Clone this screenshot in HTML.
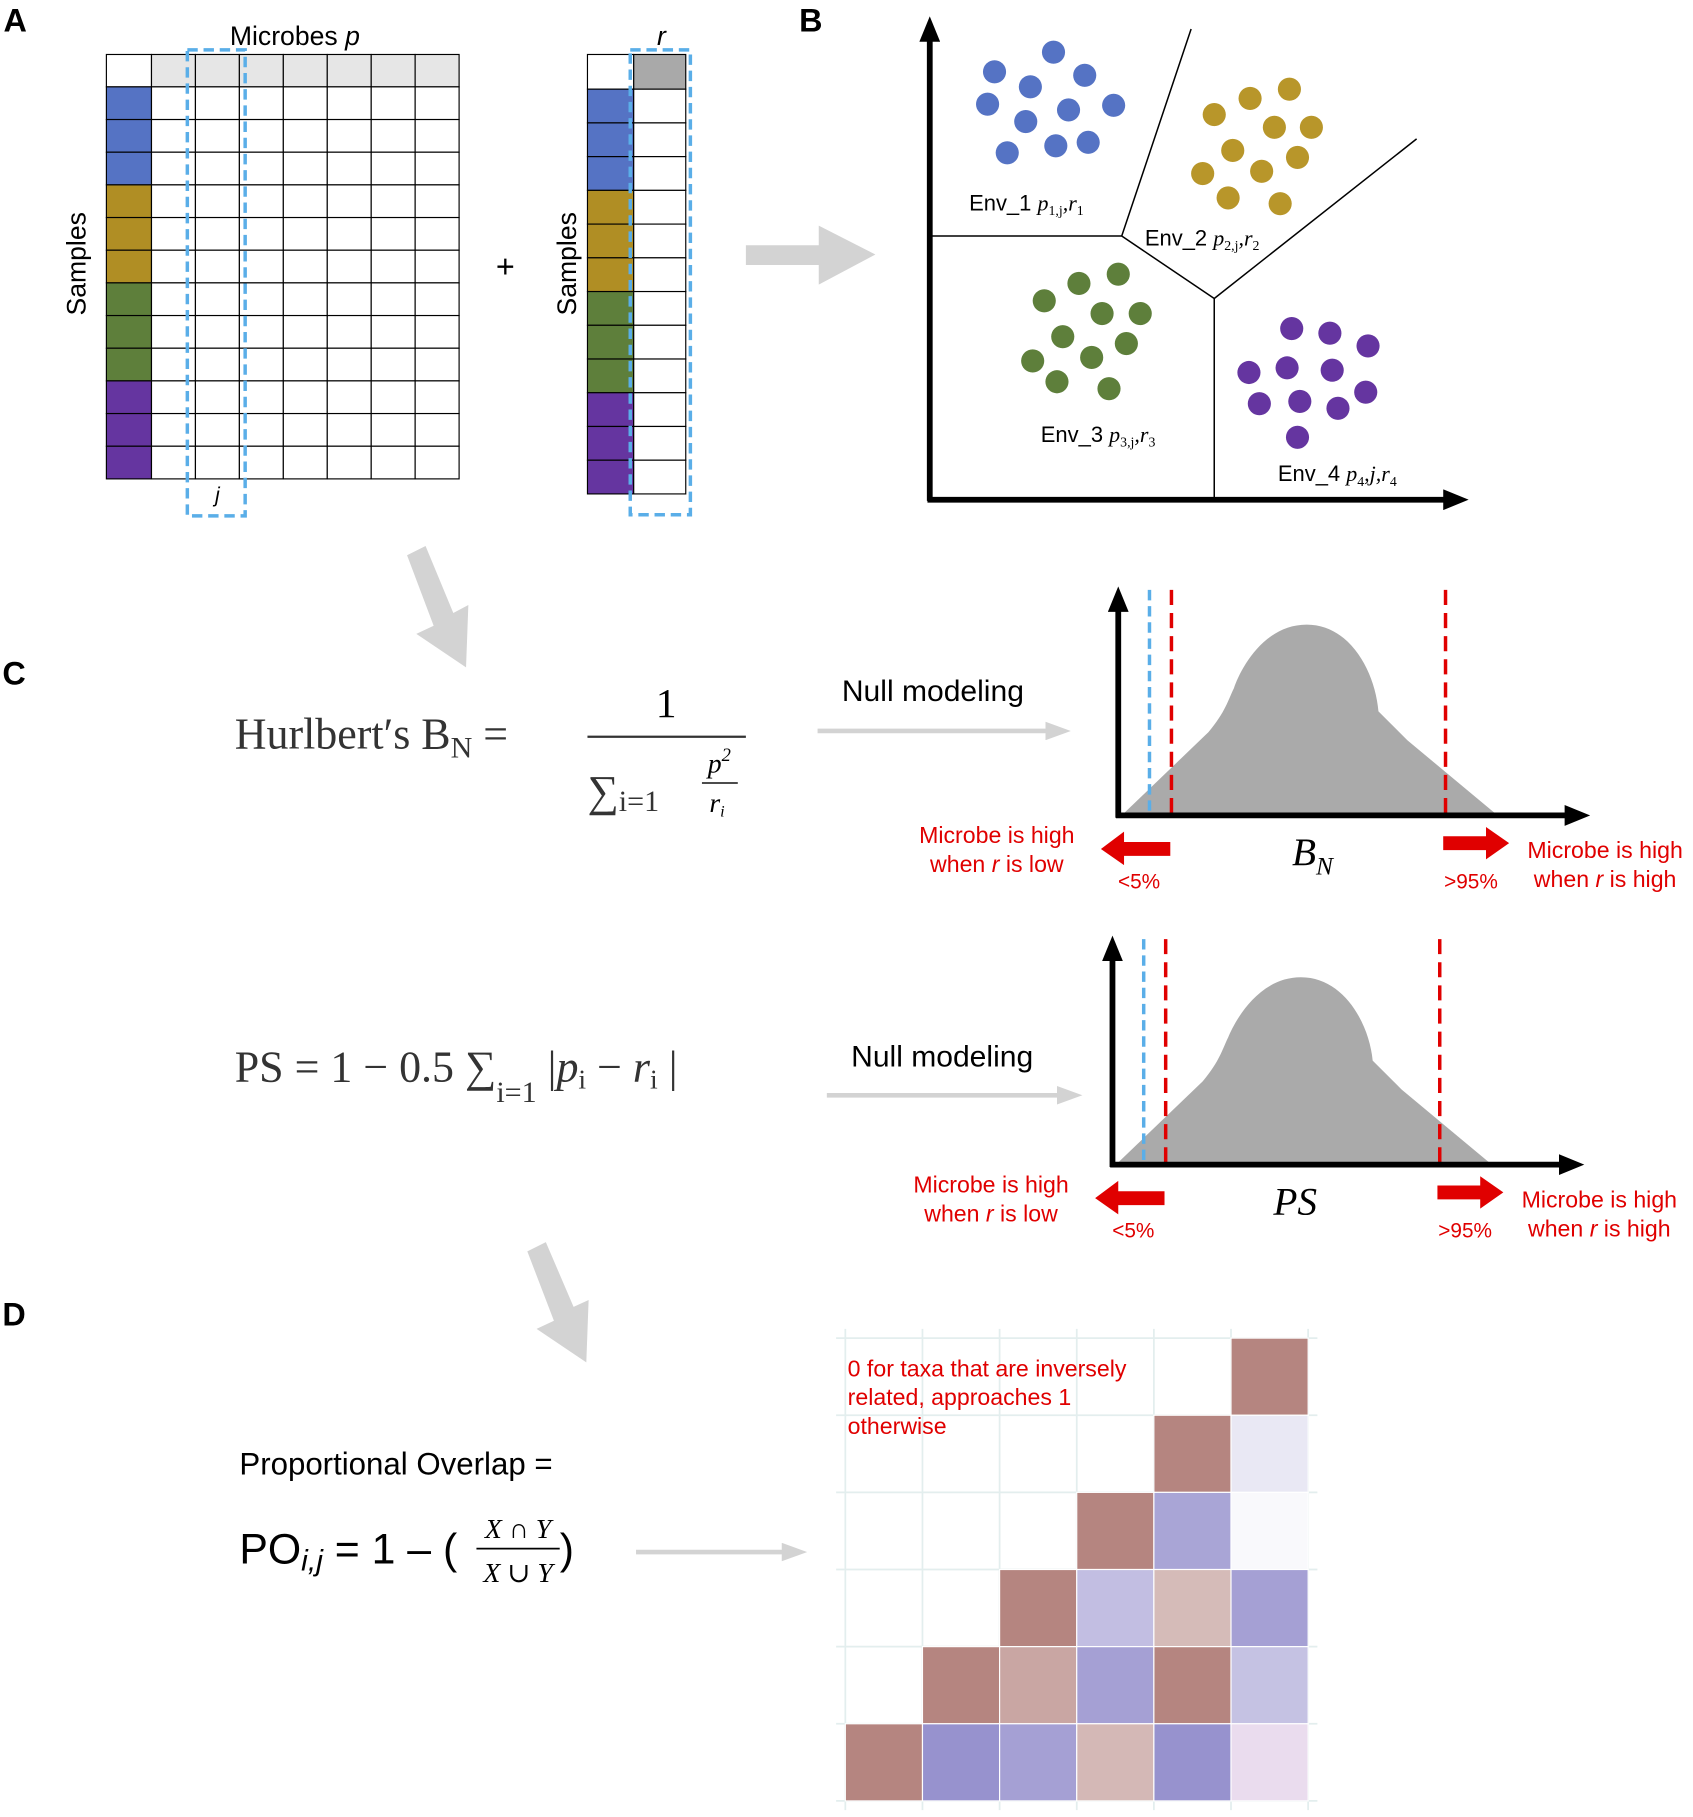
<!DOCTYPE html>
<html><head><meta charset="utf-8"><style>
html,body{margin:0;padding:0;background:#fff}
svg{display:block}
text{font-family:"Liberation Sans",sans-serif}
.serif{font-family:"Liberation Serif","DejaVu Serif",serif}
</style></head><body>
<svg id="fig" width="1693" height="1817" viewBox="0 0 1464 1571" xmlns="http://www.w3.org/2000/svg">
<defs>
<marker id="ah" markerUnits="userSpaceOnUse" markerWidth="22" markerHeight="18" refX="4" refY="9" orient="auto"><path d="M0,0 L22,9 L0,18 Z" fill="#000"/></marker>
<marker id="ahg" markerUnits="userSpaceOnUse" markerWidth="22" markerHeight="16" refX="14" refY="8" orient="auto"><path d="M0,0 L22,8 L0,16 Z" fill="#d3d3d3"/></marker>
</defs>
<g id="panelA">
<text x="3" y="27" font-size="28" font-weight="bold">A</text>
<text x="255" y="39" font-size="23" text-anchor="middle">Microbes <tspan font-style="italic">p</tspan></text>
<text x="572" y="39" font-size="23" text-anchor="middle" font-style="italic">r</text>
<g id="matP"></g>
<g id="matR"></g>
<rect x="162" y="43" width="50" height="403" fill="none" stroke="#5aaee8" stroke-width="3" stroke-dasharray="9,5"/>
<rect x="545" y="43" width="52" height="402" fill="none" stroke="#5aaee8" stroke-width="3" stroke-dasharray="9,5"/>
<text x="188" y="434" font-size="18" font-style="italic" text-anchor="middle">j</text>
<text transform="translate(74,228) rotate(-90)" font-size="23" text-anchor="middle">Samples</text>
<text transform="translate(498,228) rotate(-90)" font-size="23" text-anchor="middle">Samples</text>
<text x="437" y="240" font-size="28" text-anchor="middle">+</text>
<path d="M645,212 L708,212 L708,195 L757,220 L708,246 L708,229 L645,229 Z" fill="#d3d3d3"/>
</g>
<g id="panelB">
<text x="691" y="27" font-size="28" font-weight="bold">B</text>
<line x1="804" y1="433" x2="804" y2="32" stroke="#000" stroke-width="5" marker-end="url(#ah)"/>
<line x1="802" y1="432" x2="1252" y2="432" stroke="#000" stroke-width="5" marker-end="url(#ah)"/>
<g stroke="#000" stroke-width="1.3" fill="none">
<line x1="806" y1="204" x2="970" y2="204"/><line x1="970" y1="204" x2="1030" y2="25"/>
<line x1="970" y1="204" x2="1050" y2="258"/><line x1="1050" y1="258" x2="1225" y2="120"/>
<line x1="1050" y1="258" x2="1050" y2="432"/></g>
<g id="dots"></g>
<text x="838" y="182" font-size="19">Env_1 <tspan class="serif" font-style="italic">p</tspan><tspan class="serif" font-size="12" dy="4">1,j</tspan><tspan class="serif" font-style="italic" dy="-4">,r</tspan><tspan class="serif" font-size="12" dy="4">1</tspan></text>
<text x="990" y="212" font-size="19">Env_2 <tspan class="serif" font-style="italic">p</tspan><tspan class="serif" font-size="12" dy="4">2,j</tspan><tspan class="serif" font-style="italic" dy="-4">,r</tspan><tspan class="serif" font-size="12" dy="4">2</tspan></text>
<text x="900" y="382" font-size="19">Env_3 <tspan class="serif" font-style="italic">p</tspan><tspan class="serif" font-size="12" dy="4">3,j</tspan><tspan class="serif" font-style="italic" dy="-4">,r</tspan><tspan class="serif" font-size="12" dy="4">3</tspan></text>
<text x="1105" y="416" font-size="19">Env_4 <tspan class="serif" font-style="italic">p</tspan><tspan class="serif" font-size="12" dy="4">4</tspan><tspan class="serif" font-style="italic" dy="-4">,j,r</tspan><tspan class="serif" font-size="12" dy="4">4</tspan></text>
</g>
<g id="panelC">
<text x="2" y="592" font-size="28" font-weight="bold">C</text>
<path d="M352,480 L368,472 L392,530 L405,523 L403,577 L360,548 L375,541 Z" fill="#d3d3d3"/>
<text x="203" y="647" font-size="38" class="serif" fill="#333">Hurlbert′s B<tspan font-size="26" dy="8">N</tspan><tspan dy="-8"> =</tspan></text>
<text x="576" y="620" font-size="36" class="serif" text-anchor="middle">1</text>
<line x1="508" y1="637" x2="645" y2="637" stroke="#333" stroke-width="2"/>
<text x="508" y="697" font-size="38" class="serif" fill="#333">∑<tspan font-size="26" dy="4">i=1</tspan></text>
<text x="622" y="668" font-size="24" class="serif" font-style="italic" text-anchor="middle">p<tspan font-size="16" dy="-10">2</tspan></text>
<line x1="607" y1="677" x2="638" y2="677" stroke="#333" stroke-width="1.5"/>
<text x="620" y="702" font-size="24" class="serif" font-style="italic" text-anchor="middle">r<tspan font-size="14" dy="4">i</tspan></text>
<text x="203" y="935" font-size="38" class="serif" fill="#333">PS = 1 − 0.5 ∑<tspan font-size="26" dy="18">i=1</tspan><tspan dy="-18"> |</tspan><tspan font-style="italic">p</tspan><tspan font-size="24" dy="6">i</tspan><tspan dy="-6"> − </tspan><tspan font-style="italic">r</tspan><tspan font-size="24" dy="6">i</tspan><tspan dy="-6"> |</tspan></text>
<text x="728" y="606" font-size="26">Null modeling</text>
<line x1="707" y1="632" x2="918" y2="632" stroke="#d3d3d3" stroke-width="4" marker-end="url(#ahg)"/>
<text x="736" y="922" font-size="26">Null modeling</text>
<line x1="715" y1="947" x2="928" y2="947" stroke="#d3d3d3" stroke-width="4" marker-end="url(#ahg)"/>
<g id="dist1"></g>
<g id="dist2"></g>
</g>
<g id="panelD">
<text x="2" y="1146" font-size="28" font-weight="bold">D</text>
<path d="M456,1082 L472,1074 L496,1130 L509,1124 L507,1178 L464,1149 L479,1142 Z" fill="#d3d3d3"/>
<text x="207" y="1275" font-size="27">Proportional Overlap =</text>
<text x="207" y="1352" font-size="37">PO<tspan font-style="italic" font-size="26" dy="6">i,j</tspan><tspan dy="-6"> = 1 – (</tspan></text>
<text x="448" y="1330" font-size="24" class="serif" font-style="italic" text-anchor="middle">X ∩ Y</text>
<line x1="412" y1="1339" x2="484" y2="1339" stroke="#000" stroke-width="1.5"/>
<text x="448" y="1368" font-size="24" class="serif" font-style="italic" text-anchor="middle">X ∪ Y</text>
<text x="484" y="1352" font-size="37">)</text>
<line x1="550" y1="1342" x2="690" y2="1342" stroke="#d3d3d3" stroke-width="4" marker-end="url(#ahg)"/>
<g id="heat"></g>
<text font-size="20" fill="#e00000"><tspan x="733" y="1190">0 for taxa that are inversely</tspan><tspan x="733" y="1215">related, approaches 1</tspan><tspan x="733" y="1240">otherwise</tspan></text>
</g>
</svg>
<script>
// Heatmap values: +1 = brown (overlap), negative = blue, rows top->bottom, null = empty
const heatRows = [
 [null,null,null,null,null,1.0],
 [null,null,null,null,1.0,-0.18],
 [null,null,null,1.0,-0.78,-0.03],
 [null,null,1.0,-0.55,0.55,-0.82],
 [null,1.0,0.72,-0.82,1.0,-0.52],
 [1.0,-0.95,-0.82,0.57,-0.95,0.2]
];
const dotsBlue = [[911,45],[860,62],[938,65],[891,75],[854,90],[963,91],[924,95],[887,105],[913,126],[941,123],[871,132]];
const dotsGold = [[1115,77],[1050,99],[1081,85],[1102,110],[1134,110],[1066,130],[1122,136],[1040,150],[1091,148],[1062,171],[1107,176]];
const dotsGreen = [[967,237],[933,245],[903,260],[953,271],[986,271],[919,291],[974,297],[893,312],[944,309],[914,330],[959,336]];
const dotsPurple = [[1117,284],[1150,288],[1183,299],[1080,322],[1113,318],[1152,320],[1089,349],[1124,347],[1157,353],[1181,339],[1122,378]];
const sampleGroups = ['#5573c4','#5573c4','#5573c4','#b08e24','#b08e24','#b08e24','#5e7f3b','#5e7f3b','#5e7f3b','#6535a0','#6535a0','#6535a0'];

const NS='http://www.w3.org/2000/svg';
function mk(tag,attrs,parent){const e=document.createElementNS(NS,tag);for(const k in attrs)e.setAttribute(k,attrs[k]);parent.appendChild(e);return e;}

const mp=document.getElementById('matP');
const pX0=92,pC0=131,pX1=397,pY0=47,pH0=75,pY1=414;
const cw=(pX1-pC0)/7, rh=(pY1-pH0)/12;
for(let c=-1;c<7;c++){
 const x=c<0?pX0:pC0+c*cw, w=c<0?pC0-pX0:cw;
 const h=mk('rect',{x:x,y:pY0,width:w,height:pH0-pY0,fill:c<0?'#fff':'#e6e6e6',stroke:'#000','stroke-width':1},mp);
 
 
 for(let r=0;r<12;r++){
  const cell=mk('rect',{x:x,y:pH0+r*rh,width:w,height:rh,fill:c<0?sampleGroups[r]:'#fff',stroke:'#000','stroke-width':1},mp);
  
  
 }
}
const mr=document.getElementById('matR');
const rX0=508,rC=548,rX1=593,rY0=47,rH0=77,rY1=427,rrh=(rY1-rH0)/12;
mk('rect',{x:rX0,y:rY0,width:rC-rX0,height:rH0-rY0,fill:'#fff',stroke:'#000'},mr);
const rh2=mk('rect',{x:rC,y:rY0,width:rX1-rC,height:rH0-rY0,fill:'#a9a9a9',stroke:'#000'},mr);


for(let r=0;r<12;r++){
 mk('rect',{x:rX0,y:rH0+r*rrh,width:rC-rX0,height:rrh,fill:sampleGroups[r],stroke:'#000'},mr);
 const c=mk('rect',{x:rC,y:rH0+r*rrh,width:rX1-rC,height:rrh,fill:'#fff',stroke:'#000'},mr);
 
 
}
const dg=document.getElementById('dots');
[[dotsBlue,'#5573c4'],[dotsGold,'#b8962a'],[dotsGreen,'#5e7f3b'],[dotsPurple,'#6535a0']].forEach(([arr,col])=>{
 arr.forEach(p=>{const d=mk('circle',{cx:p[0],cy:p[1],r:10,fill:col},dg);
 
 });
});
function dist(gid,ox,oy,peakY,labels){
 const g=document.getElementById(gid);
 const base=oy, top=peakY;
 const path=`M${ox+3},${base} L${ox+78},${base-72} C${ox+93},${base-90} ${ox+95},${base-100} ${ox+100},${base-110} C${ox+105},${top+40} ${ox+125},${top} ${ox+163},${top} C${ox+200},${top} ${ox+222},${top+40} ${ox+225},${base-90} L${ox+250},${base-65} L${ox+328},${base} Z`;
 const a=mk('path',{d:path,fill:'#aaaaaa'},g);
 
 
 mk('line',{x1:ox+27,y1:oy-195,x2:ox+27,y2:oy,stroke:'#5aaee8','stroke-width':3,'stroke-dasharray':'9,5'},g);
 [ox+46,ox+283].forEach(x=>{const l=mk('line',{x1:x,y1:oy-195,x2:x,y2:oy,stroke:'#e00000','stroke-width':3,'stroke-dasharray':'13,7'},g);
  
  });
 mk('line',{x1:ox,y1:oy+2,x2:ox,y2:oy-180,stroke:'#000','stroke-width':5,'marker-end':'url(#ah)'},g);
 mk('line',{x1:ox-2,y1:oy,x2:ox+390,y2:oy,stroke:'#000','stroke-width':5,'marker-end':'url(#ah)'},g);
 mk('path',{d:`M${ox+45},${oy+23} L${ox+5},${oy+23} L${ox+5},${oy+14} L${ox-15},${oy+29} L${ox+5},${oy+43} L${ox+5},${oy+35} L${ox+45},${oy+35} Z`,fill:'#e00000'},g);
 mk('path',{d:`M${ox+281},${oy+18} L${ox+318},${oy+18} L${ox+318},${oy+10} L${ox+338},${oy+24} L${ox+318},${oy+38} L${ox+318},${oy+30} L${ox+281},${oy+30} Z`,fill:'#e00000'},g);
 const t=(x,y,s,sz)=>{const e=mk('text',{x:x,y:y,'font-size':sz,fill:'#e00000','text-anchor':'middle'},g);e.innerHTML=s;return e;};
 t(ox-105,oy+24,'Microbe is high',20);
 t(ox-105,oy+49,'when <tspan font-style="italic">r</tspan> is low',20);
 t(ox+18,oy+63,'&lt;5%',18);
 t(ox+305,oy+63,'&gt;95%',18);
 t(ox+421,oy+37,'Microbe is high',20);
 t(ox+421,oy+62,'when <tspan font-style="italic">r</tspan> is high',20);
 const lab=mk('text',{x:ox+labels[1],y:oy+43,'font-size':34,'font-style':'italic','text-anchor':'middle',class:'serif'},g);
 lab.innerHTML=labels[0];
 
 
}
dist('dist1',967,705,540,['B<tspan font-size="22" dy="8">N</tspan>',168]);
dist('dist2',962,1007,845,['PS',158]);
const hg=document.getElementById('heat');
const hx0=731,hy0=1157,cs=66.7;
for(let i=0;i<=6;i++){
 mk('line',{x1:hx0-8,y1:hy0+i*cs,x2:hx0+6*cs+8,y2:hy0+i*cs,stroke:'#e3eeee','stroke-width':1.5},hg);
 mk('line',{x1:hx0+i*cs,y1:hy0-8,x2:hx0+i*cs,y2:hy0+6*cs+8,stroke:'#e3eeee','stroke-width':1.5},hg);
}
function col(v){
 const w=[252,252,253];
 const tgt=v>=0?[181,133,128]:[146,140,203];
 const a=Math.min(1,Math.abs(v));
 return `rgb(${w.map((c,i)=>Math.round(c+(tgt[i]-c)*a)).join(',')})`;
}
heatRows.forEach((row,r)=>row.forEach((v,c)=>{
 if(v===null)return;
 let fill=col(v);
 if(r===5&&c===5)fill='#eadcee';
 const e=mk('rect',{x:hx0+c*cs,y:hy0+r*cs,width:cs,height:cs,fill:fill,stroke:'#fff','stroke-width':1},hg);
 
 
}));
</script>
</body></html>
